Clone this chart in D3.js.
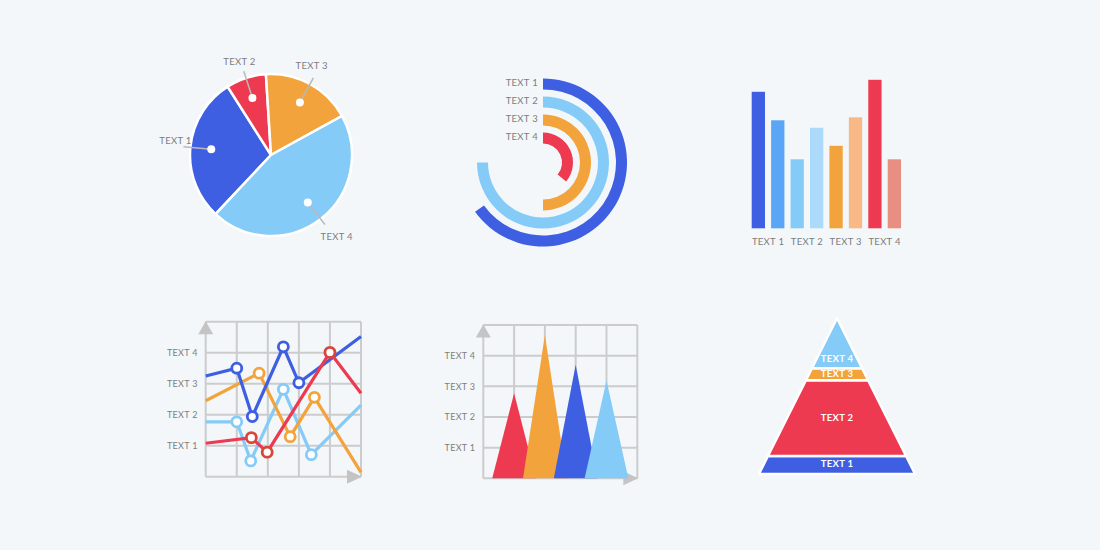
<!DOCTYPE html>
<html>
<head>
<meta charset="utf-8">
<script src="https://cdn.jsdelivr.net/npm/d3@7"></script>
<style>
  body { margin: 0; background: #f3f7fa; }
  text { font-family: "Lato", "Open Sans", sans-serif; letter-spacing: 0.3px; }
</style>
</head>
<body>
<div id="chart"></div>
<script>
// --- data ---
const labels = ["TEXT 1", "TEXT 2", "TEXT 3", "TEXT 4"];
const mainColors = ["#3e5fe2", "#ee3a51", "#f3a33b", "#85cbf8"];

// pie (percent)
const pieValues = [29, 8, 18, 45];

// radial bars (percent of full circle)
const radialValues = [65, 75, 50, 36];
const radialColors = ["#3e5fe2", "#85cbf8", "#f3a33b", "#ee3a51"];

// bar chart: two bars per label
const barValues = [91, 72, 46, 67, 55, 74, 99, 46];
const barColors = ["#3e5fe2", "#5aa5f6", "#85cbf8", "#acdafb", "#f3a33b", "#f9b987", "#ee3a51", "#e88f82"];

// line chart (x in grid cells, y in label units)
const lineSeries = [
  { color: "#85cbf8", pts: [[0, 1.77], [1, 1.77], [1.45, 0.51], [2.5, 2.82], [3.4, 0.71], [5, 2.31]], marks: [1, 2, 3, 4] },
  { color: "#f3a33b", pts: [[0, 2.45], [1.72, 3.34], [2.72, 1.29], [3.5, 2.56], [5, 0.14]], marks: [1, 2, 3] },
  { color: "#3e5fe2", pts: [[0, 3.25], [1, 3.5], [1.5, 1.94], [2.5, 4.19], [3, 3.03], [5, 4.52]], marks: [1, 2, 3, 4] },
  { color: "#ee3a51", pts: [[0, 1.08], [1.47, 1.26], [1.98, 0.79], [4, 4.01], [5, 2.69]], marks: [1, 2, 3], markColor: "#d9453a" }
];

// triangle chart
const triPos = [1, 2, 3, 4];
const triValues = [2.77, 4.67, 3.7, 3.19];
const triColors = ["#ee3a51", "#f3a33b", "#3e5fe2", "#85cbf8"];

// pyramid (bottom to top)
const pyrValues = [18, 76, 12, 50];
const pyrColors = ["#3e5fe2", "#ee3a51", "#f3a33b", "#85cbf8"];

const width = 1100, height = 550;
const labelColor = "#7d7d7d";
const gridColor = "#cccccc";

const svg = d3.select("#chart")
  .append("svg")
  .attr("width", width)
  .attr("height", height)
  .attr("viewBox", [0, 0, width, height]);

svg.append("rect").attr("width", width).attr("height", height).attr("fill", "#f3f7fa");

/* ---------- pie ---------- */
const pieG = svg.append("g").attr("transform", "translate(271,155)");
const deg = Math.PI / 180;
const pie = d3.pie().sort(null).startAngle(223.2 * deg).endAngle((223.2 + 360) * deg);
const arcs = pie(pieValues);
const pieArc = d3.arc().innerRadius(0).outerRadius(81);
const dotArc = d3.arc().innerRadius(60).outerRadius(60);
const lineArc = d3.arc().innerRadius(88).outerRadius(88);
const labArc = d3.arc().innerRadius(99).outerRadius(99);
// small hand nudges so labels sit where the leader lines end
const labNudge = [[3, -4], [-1, 2], [-7, -2], [5, 4]];

pieG.selectAll("path")
  .data(arcs)
  .join("path")
  .attr("d", pieArc)
  .attr("fill", (d, i) => mainColors[i])
  .attr("stroke", "#ffffff")
  .attr("stroke-width", 2.5);

pieG.selectAll(".leader")
  .data(arcs)
  .join("line")
  .attr("class", "leader")
  .attr("x1", d => dotArc.centroid(d)[0])
  .attr("y1", d => dotArc.centroid(d)[1])
  .attr("x2", d => lineArc.centroid(d)[0])
  .attr("y2", d => lineArc.centroid(d)[1])
  .attr("stroke", "#b9b9b9")
  .attr("stroke-width", 1.5);

pieG.selectAll(".dot")
  .data(arcs)
  .join("circle")
  .attr("class", "dot")
  .attr("cx", d => dotArc.centroid(d)[0])
  .attr("cy", d => dotArc.centroid(d)[1])
  .attr("r", 4)
  .attr("fill", "#ffffff");

pieG.selectAll(".plabel")
  .data(arcs)
  .join("text")
  .attr("class", "plabel")
  .attr("x", (d, i) => labArc.centroid(d)[0] + labNudge[i][0])
  .attr("y", (d, i) => labArc.centroid(d)[1] + labNudge[i][1])
  .attr("text-anchor", "middle")
  .attr("dominant-baseline", "middle")
  .attr("font-size", "9.5px")
  .attr("fill", labelColor)
  .text((d, i) => labels[i]);

/* ---------- radial bars ---------- */
const radG = svg.append("g").attr("transform", "translate(543,162.5)");
const angle = d3.scaleLinear().domain([0, 100]).range([0, 2 * Math.PI]);
const ring = d3.scalePoint().domain(labels).range([84, 30]);
const ringW = 11;

radG.selectAll("path")
  .data(radialValues)
  .join("path")
  .attr("d", (d, i) => d3.arc()
    .innerRadius(ring(labels[i]) - ringW)
    .outerRadius(ring(labels[i]))
    .startAngle(0)
    .endAngle(angle(d))())
  .attr("fill", (d, i) => radialColors[i]);

radG.selectAll("text")
  .data(labels)
  .join("text")
  .attr("x", -5)
  .attr("y", d => -(ring(d) - ringW / 2))
  .attr("text-anchor", "end")
  .attr("dominant-baseline", "middle")
  .attr("font-size", "9.5px")
  .attr("fill", labelColor)
  .text(d => d);

/* ---------- bar chart ---------- */
const barX = d3.scaleBand().domain(d3.range(barValues.length)).range([751.7, 901]).paddingInner(0.316);
const barY = d3.scaleLinear().domain([0, 100]).range([228.3, 78.3]);

svg.append("g").selectAll("rect")
  .data(barValues)
  .join("rect")
  .attr("x", (d, i) => barX(i))
  .attr("y", d => barY(d))
  .attr("width", barX.bandwidth())
  .attr("height", d => barY(0) - barY(d))
  .attr("fill", (d, i) => barColors[i]);

svg.append("g").selectAll("text")
  .data(labels)
  .join("text")
  .attr("x", (d, i) => (barX(2 * i) + barX(2 * i + 1) + barX.bandwidth()) / 2)
  .attr("y", 242.5)
  .attr("text-anchor", "middle")
  .attr("dominant-baseline", "middle")
  .attr("font-size", "9.5px")
  .attr("fill", labelColor)
  .text(d => d);

/* ---------- grid helper ---------- */
function gridPanel(x, y) {
  const g = svg.append("g");
  const ticks = d3.range(0, 6);
  g.selectAll(".vl").data(ticks).join("line")
    .attr("x1", d => x(d)).attr("x2", d => x(d))
    .attr("y1", y(5)).attr("y2", y(0))
    .attr("stroke", gridColor).attr("stroke-width", 2);
  g.selectAll(".hl").data(ticks).join("line")
    .attr("x1", x(0)).attr("x2", x(5))
    .attr("y1", d => y(d)).attr("y2", d => y(d))
    .attr("stroke", gridColor).attr("stroke-width", 2);
  // arrows
  g.append("path")
    .attr("d", `M${x(0) - 7.5},${y(5) + 12.5} L${x(0)},${y(5) - 0.5} L${x(0) + 7.5},${y(5) + 12.5} Z`)
    .attr("fill", "#c4c4c4");
  g.append("path")
    .attr("d", `M${x(5) - 14},${y(0) - 7} L${x(5) + 1},${y(0)} L${x(5) - 14},${y(0) + 7} Z`)
    .attr("fill", "#c4c4c4");
  // tick labels
  g.append("g")
    .attr("transform", `translate(${x(0) - 5},0)`)
    .call(d3.axisLeft(y).tickValues([1, 2, 3, 4]).tickFormat(d => labels[d - 1]).tickSize(0))
    .call(a => a.select(".domain").remove())
    .call(a => a.selectAll("text")
      .attr("font-size", "9px")
      .attr("font-family", "Lato, 'Open Sans', sans-serif")
      .attr("fill", labelColor));
  return g;
}

/* ---------- line chart ---------- */
const lx = d3.scaleLinear().domain([0, 5]).range([205.7, 361]);
const ly = d3.scaleLinear().domain([0, 5]).range([476.7, 321.7]);
gridPanel(lx, ly);

const lineGen = d3.line().x(d => lx(d[0])).y(d => ly(d[1]));
const lineG = svg.append("g");
lineSeries.forEach(s => {
  lineG.append("path")
    .attr("d", lineGen(s.pts))
    .attr("fill", "none")
    .attr("stroke", s.color)
    .attr("stroke-width", 3.2)
    .attr("stroke-linejoin", "miter");
});
lineSeries.forEach(s => {
  lineG.selectAll(null)
    .data(s.marks.map(i => s.pts[i]))
    .join("circle")
    .attr("cx", d => lx(d[0]))
    .attr("cy", d => ly(d[1]))
    .attr("r", 5)
    .attr("fill", "#ffffff")
    .attr("stroke", s.markColor || s.color)
    .attr("stroke-width", 2.8);
});

/* ---------- triangle chart ---------- */
const tx = d3.scaleLinear().domain([0, 5]).range([483.3, 637.3]);
const ty = d3.scaleLinear().domain([0, 5]).range([478.3, 325]);
gridPanel(tx, ty);
const half = 0.71;
svg.append("g").selectAll("path")
  .data(triValues)
  .join("path")
  .attr("d", (d, i) => `M${tx(triPos[i] - half)},${ty(0)} L${tx(triPos[i])},${ty(d)} L${tx(triPos[i] + half)},${ty(0)} Z`)
  .attr("fill", (d, i) => triColors[i]);

/* ---------- pyramid ---------- */
const total = d3.sum(pyrValues);
const py = d3.scaleLinear().domain([0, total]).range([474, 318.3]);
const pw = d3.scaleLinear().domain([0, total]).range([78, 0]);
const cx = 837;
const cum = d3.cumsum(pyrValues);
const layers = pyrValues.map((v, i) => ({ from: cum[i] - v, to: cum[i], i }));

svg.append("g").selectAll("path")
  .data(layers)
  .join("path")
  .attr("d", d => d.to >= total
    ? `M${cx - pw(d.from)},${py(d.from)} L${cx},${py(d.to)} L${cx + pw(d.from)},${py(d.from)} Z`
    : `M${cx - pw(d.from)},${py(d.from)} L${cx - pw(d.to)},${py(d.to)} L${cx + pw(d.to)},${py(d.to)} L${cx + pw(d.from)},${py(d.from)} Z`)
  .attr("fill", d => pyrColors[d.i])
  .attr("stroke", "#ffffff")
  .attr("stroke-width", 2.4)
  .attr("stroke-linejoin", "round");

svg.append("g").selectAll("text")
  .data(layers)
  .join("text")
  .attr("x", cx)
  .attr("y", d => d.i === 3 ? py(d.from) - 9 : py((d.from + d.to) / 2))
  .attr("text-anchor", "middle")
  .attr("dominant-baseline", "middle")
  .attr("font-size", "9.5px")
  .attr("font-weight", "bold")
  .attr("fill", "#ffffff")
  .text(d => labels[d.i]);
</script>
</body>
</html>
